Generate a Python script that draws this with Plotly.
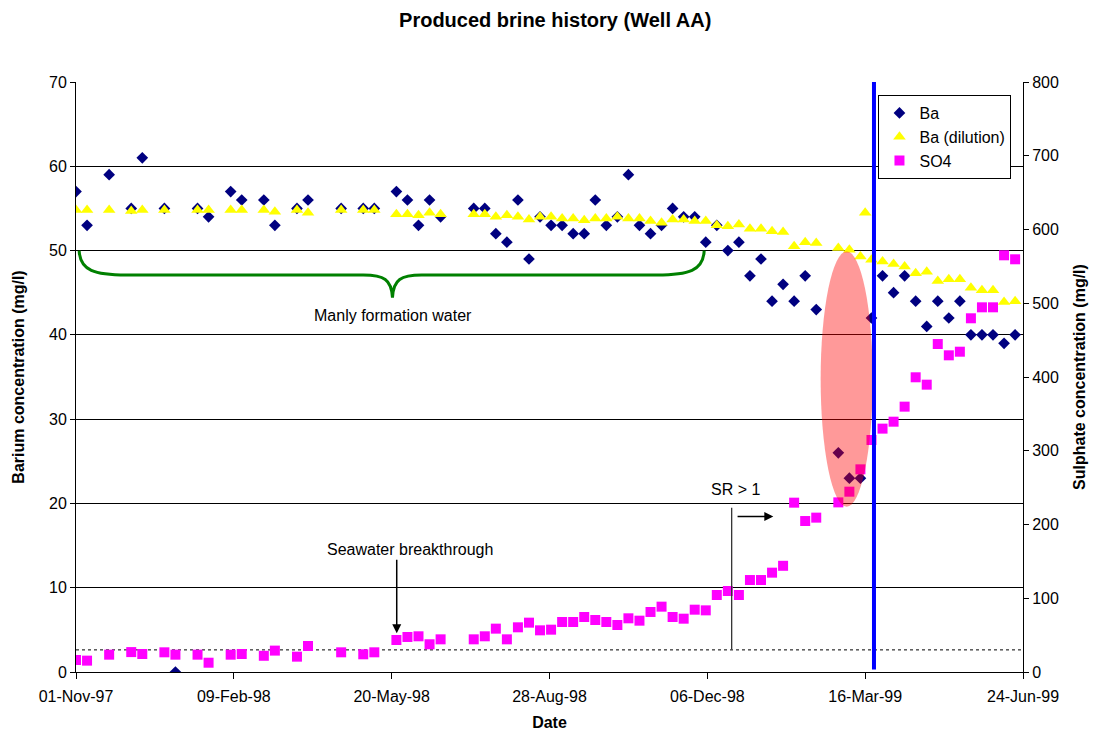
import pandas as pd
import plotly.graph_objects as go

# ---------------- data ----------------
dates = ["1997-11-01","1997-11-08","1997-11-22","1997-12-06","1997-12-13","1997-12-27",
         "1998-01-03","1998-01-17","1998-01-24","1998-02-07","1998-02-14","1998-02-28","1998-03-07",
         "1998-03-21","1998-03-28","1998-04-18","1998-05-02","1998-05-09","1998-05-23","1998-05-30",
         "1998-06-06","1998-06-13","1998-06-20","1998-07-11","1998-07-18","1998-07-25","1998-08-01",
         "1998-08-08","1998-08-15","1998-08-22","1998-08-29","1998-09-05","1998-09-12","1998-09-19",
         "1998-09-26","1998-10-03","1998-10-10","1998-10-17","1998-10-24","1998-10-31","1998-11-07",
         "1998-11-14","1998-11-21","1998-11-28","1998-12-05","1998-12-12","1998-12-19","1998-12-26",
         "1999-01-02","1999-01-09","1999-01-16","1999-01-23","1999-01-30","1999-02-06","1999-02-13",
         "1999-02-27","1999-03-06","1999-03-13","1999-03-16","1999-03-20","1999-03-27","1999-04-03",
         "1999-04-10","1999-04-17","1999-04-24","1999-05-01","1999-05-08","1999-05-15","1999-05-22",
         "1999-05-29","1999-06-05","1999-06-12","1999-06-19"]

ba = [57, 53, 59, 55, 61, 55,
      0, 55, 54, 57, 56, 56, 53,
      55, 56, 55, 55, 55, 57, 56,
      53, 56, 54, 55, 55, 52, 51,
      56, 49, 54, 53, 53, 52, 52,
      56, 53, 54, 59, 53, 52, 53,
      55, 54, 54, 51, 53, 50, 51,
      47, 49, 44, 46, 44, 47, 43,
      26, 23, 23, None, 42, 47, 45,
      47, 44, 41, 44, 42, 44, 40,
      40, 40, 39, 40]

ba_dilution = [54.8, 54.8, 54.8, 54.7, 54.8, 54.8,
               None, 54.8, 54.8, 54.8, 54.8, 54.8, 54.6,
               54.8, 54.5, 54.8, 54.8, 54.8, 54.3, 54.3,
               54.2, 54.5, 54.3, 54.3, 54.3, 54.0, 54.2,
               54.0, 53.7, 54.0, 54.0, 53.8, 53.8, 53.6,
               53.8, 53.8, 54.0, 53.8, 53.8, 53.5, 53.3,
               53.7, 53.7, 53.5, 53.5, 53.0, 52.9, 53.1,
               52.6, 52.6, 52.3, 52.2, 50.5, 51.0, 50.9,
               50.3, 50.1, 49.3, 54.5, 48.9, 48.7, 48.4,
               48.1, 47.3, 47.5, 46.4, 46.6, 46.6, 45.6,
               45.3, 45.3, 43.9, 44.0]

so4 = [16.3, 15.4, 23.5, 27, 24.4, 26.7,
       23.5, 23.5, 12.6, 23.5, 24.4, 22, 29,
       20.8, 35.3, 26.7, 24, 26.7, 43.4, 47.5,
       48.4, 37.6, 44.3, 44.3, 48.4, 58.8, 44.3,
       60.6, 66.9, 56.5, 57.4, 67.8, 67.8, 74.6,
       70.5, 67.8, 63.7, 72.8, 69.6, 81.4, 88.6,
       74.6, 72.3, 84.5, 83.6, 104.4, 109.8, 104.4,
       124.7, 124.7, 134.7, 144, 229.6, 204.7, 209.3,
       230, 244.5, 274.8, None, 314.6, 330, 339.4,
       359.8, 399.6, 389.6, 444.7, 429.4, 434.3, 479.6,
       494.5, 494.5, 565, 559.6]

tick_dates = ["1997-11-01", "1998-02-09", "1998-05-20", "1998-08-28",
              "1998-12-06", "1999-03-16", "1999-06-24"]
tick_labels = ["01-Nov-97", "09-Feb-98", "20-May-98", "28-Aug-98",
               "06-Dec-98", "16-Mar-99", "24-Jun-99"]

# annotation anchors
seawater_threshold = 30          # mg/l SO4 dotted line
blue_line_date = "1999-03-21 14:00"
ellipse_x = ["1999-02-15 19:00", "1999-03-20 19:00"]
ellipse_y = [19.6, 49.9]
sr_line_date = "1998-12-21 10:00"

FONT = "Liberation Sans, Arial, sans-serif"
base = pd.Timestamp("1997-11-01")


def ms(day):
    return (base + pd.Timedelta(days=day)).value / 1e6


# curly brace path (days from start, Ba units)
brace_pts = [
    ("M", [(2, 50)]),
    ("C", [(2.5, 47.6), (12, 47.1), (32, 47.1)]),
    ("L", [(182, 47.1)]),
    ("C", [(195, 47.1), (200, 46.6), (200.5, 44.4)]),
    ("C", [(201, 46.6), (206, 47.1), (219, 47.1)]),
    ("L", [(368, 47.1)]),
    ("C", [(388, 47.1), (397.5, 47.6), (398, 50)]),
]
brace_path = " ".join(
    cmd + " " + " ".join(f"{ms(d):.0f},{v}" for d, v in pts) for cmd, pts in brace_pts
)

fig = go.Figure()
fig.add_trace(go.Scatter(x=dates, y=ba, mode="markers", name="Ba",
                         marker=dict(symbol="diamond", size=9, color="#000080")))
fig.add_trace(go.Scatter(x=dates, y=ba_dilution, mode="markers", name="Ba (dilution)",
                         marker=dict(symbol="triangle-up", size=11, color="#FFFF00")))
fig.add_trace(go.Scatter(x=dates, y=so4, mode="markers", name="SO4", yaxis="y2",
                         marker=dict(symbol="square", size=10, color="#FF00FF")))

shapes = [
    dict(type="line", xref="paper", yref="y2", x0=0, x1=1,
         y0=seawater_threshold, y1=seawater_threshold,
         line=dict(color="black", width=1, dash="dot"), layer="below"),
    dict(type="circle", xref="x", yref="y", x0=ellipse_x[0], x1=ellipse_x[1],
         y0=ellipse_y[0], y1=ellipse_y[1], fillcolor="rgba(255,0,0,0.4)",
         line=dict(width=0), layer="above"),
    dict(type="line", xref="x", yref="y", x0=blue_line_date, x1=blue_line_date,
         y0=0.3, y1=70, line=dict(color="#0000FF", width=4), layer="above"),
    dict(type="line", xref="x", yref="y", x0=sr_line_date, x1=sr_line_date,
         y0=2.67, y1=19.5, line=dict(color="#333333", width=1.3), layer="above"),
    dict(type="path", xref="x", yref="y", path=brace_path,
         line=dict(color="#008000", width=3), layer="above"),
]

annotations = [
    dict(x="1998-05-20 19:00", y=42.35, xref="x", yref="y", text="Manly formation water",
         showarrow=False, font=dict(size=16, family=FONT, color="black")),
    dict(x="1998-05-31 10:00", y=14.55, xref="x", yref="y", text="Seawater breakthrough",
         showarrow=False, font=dict(size=16, family=FONT, color="black")),
    dict(x="1998-05-23 05:00", y=4.6, ax="1998-05-23 05:00", ay=13.5,
         xref="x", yref="y", axref="x", ayref="y", text="", showarrow=True,
         arrowhead=2, arrowsize=1.2, arrowwidth=1.5, arrowcolor="black", standoff=0),
    dict(x="1998-12-23 19:00", y=21.6, xref="x", yref="y", text="SR &gt; 1",
         showarrow=False, font=dict(size=16, family=FONT, color="black")),
    dict(x="1999-01-16 19:00", y=18.46, ax="1998-12-24 05:00", ay=18.46,
         xref="x", yref="y", axref="x", ayref="y", text="", showarrow=True,
         arrowhead=2, arrowsize=1.2, arrowwidth=1.5, arrowcolor="black", standoff=0),
]

fig.update_layout(
    template="none",
    width=1094, height=731,
    margin=dict(l=76, r=71, t=82, b=59, pad=0),
    paper_bgcolor="white", plot_bgcolor="white",
    font=dict(family=FONT, size=16, color="black"),
    title=dict(text="<b>Produced brine history (Well AA)</b>", x=0.506, xref="paper",
               xanchor="center", y=1 - 20 / 731, yref="container", yanchor="middle",
               font=dict(size=20, family=FONT, color="black")),
    xaxis=dict(type="date", range=["1997-11-01", "1999-06-24"],
               tickvals=tick_dates, ticktext=tick_labels,
               ticks="outside", ticklen=6, tickcolor="black", tickwidth=1,
               ticklabelstandoff=4,
               showline=True, linecolor="black", linewidth=1, showgrid=False,
               zeroline=False, automargin=False,
               tickfont=dict(size=16, family=FONT, color="black"),
               title=dict(text="<b>Date</b>", standoff=14,
                          font=dict(size=16, family=FONT, color="black"))),
    yaxis=dict(range=[0, 70], dtick=10, ticks="outside", ticklen=5, tickcolor="black",
               showline=True, linecolor="black", linewidth=1,
               showgrid=True, gridcolor="black", gridwidth=1, zeroline=False,
               automargin=False,
               tickfont=dict(size=16, family=FONT, color="black"),
               title=dict(text="<b>Barium concentration (mg/l)</b>", standoff=20,
                          font=dict(size=16, family=FONT, color="black"))),
    yaxis2=dict(range=[0, 800], dtick=100, overlaying="y", side="right",
                ticks="outside", ticklen=5, tickcolor="black",
                showline=True, linecolor="black", linewidth=1,
                showgrid=False, zeroline=False, automargin=False,
                tickfont=dict(size=16, family=FONT, color="black"),
                title=dict(text="<b>Sulphate concentration (mg/l)</b>", standoff=15,
                           font=dict(size=16, family=FONT, color="black"))),
    legend=dict(x=0.9176, y=0.978, xanchor="center", yanchor="top",
                bgcolor="white", bordercolor="black", borderwidth=1,
                font=dict(size=16, family=FONT, color="black"),
                itemwidth=30, tracegroupgap=0),
    shapes=shapes,
    annotations=annotations,
    showlegend=True,
)

fig.write_html("out.html")
